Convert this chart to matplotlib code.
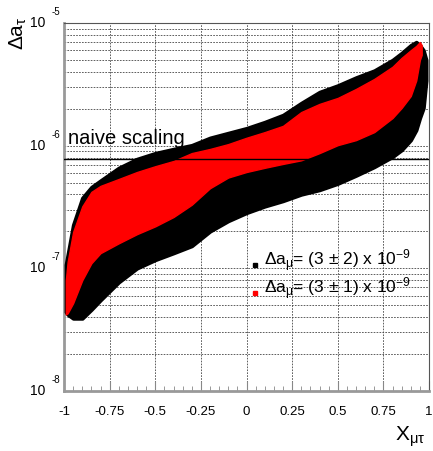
import numpy as np
import matplotlib
matplotlib.use("Agg")
from matplotlib import pyplot as plt
from matplotlib.ticker import MultipleLocator, LogLocator, NullFormatter
import matplotlib.transforms as mtransforms

plt.rcParams['font.family'] = ['Liberation Sans', 'DejaVu Sans']
plt.rcParams['mathtext.fontset'] = 'custom'
plt.rcParams['mathtext.rm'] = 'Liberation Sans'
plt.rcParams['mathtext.it'] = 'Liberation Sans'

# band envelopes
x_black = [-0.99, -0.98, -0.95, -0.9, -0.85, -0.8, -0.7, -0.6, -0.5, -0.4,
           -0.3, -0.2, -0.1, 0.0, 0.1, 0.2, 0.3, 0.4, 0.5, 0.6, 0.7, 0.8,
           0.85, 0.9, 0.93, 0.95, 0.97, 0.985]
black_hi = [1.07e-7, 1.29e-7, 2.26e-7, 3.75e-7, 4.6e-7, 5.2e-7, 6.6e-7,
            7.8e-7, 8.7e-7, 9.4e-7, 1.01e-6, 1.16e-6, 1.27e-6, 1.39e-6,
            1.56e-6, 1.78e-6, 2.23e-6, 2.74e-6, 3.1e-6, 3.6e-6, 4.1e-6,
            5.0e-6, 5.7e-6, 6.6e-6, 7.0e-6, 6.6e-6, 6.0e-6, 5.0e-6]
black_lo = [4.4e-8, 4.2e-8, 3.9e-8, 3.9e-8, 4.6e-8, 5.5e-8, 7.7e-8, 1.0e-7,
            1.17e-7, 1.33e-7, 1.52e-7, 2.0e-7, 2.43e-7, 2.83e-7, 3.2e-7,
            3.54e-7, 4.0e-7, 4.35e-7, 4.9e-7, 5.7e-7, 6.7e-7, 8.1e-7,
            9.2e-7, 1.11e-6, 1.34e-6, 1.68e-6, 2.03e-6, 3.4e-6]

x_red = [-0.99, -0.98, -0.95, -0.9, -0.85, -0.8, -0.7, -0.6, -0.5, -0.4,
         -0.3, -0.2, -0.1, 0.0, 0.1, 0.2, 0.3, 0.4, 0.5, 0.6, 0.7, 0.8,
         0.85, 0.9, 0.93, 0.95, 0.96]
red_hi = [8.0e-8, 1.13e-7, 1.98e-7, 3.2e-7, 4.2e-7, 4.7e-7, 5.35e-7, 6.1e-7,
          6.8e-7, 7.5e-7, 8.7e-7, 9.4e-7, 1.03e-6, 1.16e-6, 1.29e-6, 1.45e-6,
          1.88e-6, 2.19e-6, 2.45e-6, 2.9e-6, 3.5e-6, 4.4e-6, 5.2e-6, 6.0e-6,
          6.5e-6, 7.0e-6, 6.6e-6]
red_lo = [4.2e-8, 4.3e-8, 5.2e-8, 8.0e-8, 1.1e-7, 1.33e-7, 1.6e-7, 1.9e-7,
          2.2e-7, 2.62e-7, 3.3e-7, 4.5e-7, 5.5e-7, 6.1e-7, 6.6e-7, 7.1e-7,
          7.6e-7, 8.7e-7, 1.01e-6, 1.11e-6, 1.29e-6, 1.68e-6, 2.03e-6,
          2.54e-6, 3.4e-6, 5.0e-6, 5.5e-6]

naive = 7.8e-7
y_majors = [1e-8, 1e-7, 1e-6, 1e-5]
y_exps = ["-8", "-7", "-6", "-5"]
x_labels = ["-1", "-0.75", "-0.5", "-0.25", "0", "0.25", "0.5", "0.75", "1"]
legend_texts = [r"$\mathrm{\Delta a_{\mu}}$= (3 ± 2) x 10$^{-9}$",
                r"$\mathrm{\Delta a_{\mu}}$= (3 ± 1) x 10$^{-9}$"]
legend_colors = ["black", "red"]

fig = plt.figure(figsize=(4.33, 4.51), dpi=100)
ax = fig.add_axes([64 / 433, 60 / 451, 365 / 433, 368 / 451])
ax.set_yscale('log')
ax.set_xlim(-1, 1)
ax.set_ylim(1e-8, 1e-5)

# bands
ax.fill_between(x_black, black_lo, black_hi, color='black', lw=2.5,
                edgecolor='black', zorder=3)
ax.fill_between(x_red, red_lo, red_hi, color='red', lw=1.0,
                edgecolor='red', zorder=4)

ax.axhline(naive, color='black', lw=1.0, zorder=5)
ax.text(-0.98, naive * 1.22, "naive scaling", fontsize=14.5, va='bottom',
        ha='left', zorder=6)

# grid
ax.xaxis.set_major_locator(MultipleLocator(0.25))
ax.xaxis.set_minor_locator(MultipleLocator(0.05))
ax.yaxis.set_major_locator(LogLocator(base=10, numticks=10))
ax.yaxis.set_minor_locator(LogLocator(base=10, subs=np.arange(2, 10),
                                      numticks=20))
ax.yaxis.set_major_formatter(NullFormatter())
ax.yaxis.set_minor_formatter(NullFormatter())
ax.grid(True, which='major', axis='x', ls=(0, (2, 1.5)), lw=0.6,
        color='#444444', zorder=1)
ax.grid(True, which='both', axis='y', ls=(0, (2, 1.5)), lw=0.6,
        color='#444444', zorder=1)
ax.set_axisbelow(True)

ax.set_xticks(np.arange(-1, 1.01, 0.25))
ax.set_xticklabels(x_labels, fontsize=9.5)
ax.tick_params(axis='x', which='major', direction='in', length=7,
               color='#888888', pad=11)
ax.tick_params(axis='x', which='minor', direction='in', length=3.5,
               color='#888888')
ax.tick_params(axis='y', which='both', length=0)

for side in ['left', 'bottom']:
    ax.spines[side].set_color('#999999')
    ax.spines[side].set_linewidth(2)
for side in ['top', 'right']:
    ax.spines[side].set_color('#555555')
    ax.spines[side].set_linewidth(0.8)

# ROOT-style y labels
trans = mtransforms.blended_transform_factory(ax.transAxes, ax.transData)
for val, ex in zip(y_majors, y_exps):
    ax.text(-0.052, val, "10", fontsize=10, ha='right', va='center',
            transform=trans)
    ax.text(-0.033, val * 10 ** 0.09, ex, fontsize=7, ha='left',
            va='center', transform=trans)

fig.text(18 / 433, 1 - 33 / 451, r"$\mathrm{\Delta a_{\tau}}$", fontsize=15,
         rotation=90, ha='center', va='center')
fig.text(410 / 433, 1 - 437 / 451, r"$\mathrm{X_{\mu\tau}}$", fontsize=15,
         ha='center', va='center')

# legend
leg_y = [265, 293]
for txt, col, py in zip(legend_texts, legend_colors, leg_y):
    fig.lines.append(plt.Line2D([255 / 433], [1 - py / 451], marker='s',
                                ms=3.5, color=col, ls='none',
                                transform=fig.transFigure))
    fig.text(264 / 433, 1 - (py - 4) / 451, txt, fontsize=12.5,
             ha='left', va='center')

fig.savefig("out.png", dpi=100)
